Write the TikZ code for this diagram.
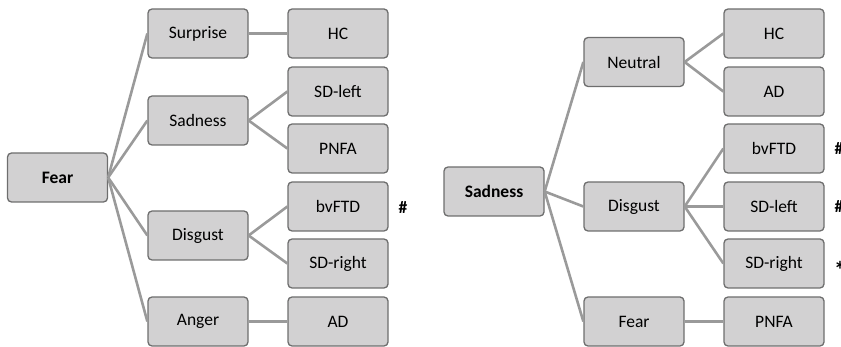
\documentclass[tikz,border=0pt]{standalone}
\usepackage{fontspec}
\setmainfont{Carlito}
\definecolor{boxfill}{HTML}{D2D1D2}
\definecolor{boxdraw}{HTML}{6E6E6E}
\definecolor{linkc}{HTML}{9A9A9A}
\tikzset{
  emo/.style={draw=boxdraw, fill=boxfill, line width=1.3pt, rounded corners=4pt,
    minimum width=100pt, minimum height=49pt, inner sep=0pt, font=\fontsize{17.5}{19}\selectfont},
  link/.style={draw=linkc, line width=2.6pt},
  sigmark/.style={font=\fontsize{17.5}{19}\selectfont\bfseries, inner sep=0pt}
}
\begin{document}
\begin{tikzpicture}[x=1pt,y=-1pt]
\useasboundingbox (0,0) rectangle (841,347);
% left tree
\node[emo, font=\fontsize{17.5}{19}\selectfont\bfseries] (fear) at (57.5,177.5) {Fear};
\node[emo] (surp) at (198,33.5) {Surprise};
\node[emo] (sadl) at (198,120.5) {Sadness};
\node[emo] (disl) at (198,235.5) {Disgust};
\node[emo] (angl) at (198,321.5) {Anger};
\node[emo] (hcl) at (338,33.5) {HC};
\node[emo] (sdll) at (338,91.5) {SD-left};
\node[emo] (pnfal) at (338,148.5) {PNFA};
\node[emo] (bvl) at (338,206.5) {bvFTD};
\node[emo] (sdrl) at (338,263.5) {SD-right};
\node[emo] (adl) at (338,321.5) {AD};
\node[sigmark] (m1) at (403,208) {\#};
\foreach \t in {surp,sadl,disl,angl} \draw[link] (fear.east) -- (\t.west);
\draw[link] (surp.east) -- (hcl.west);
\draw[link] (sadl.east) -- (sdll.west);
\draw[link] (sadl.east) -- (pnfal.west);
\draw[link] (disl.east) -- (bvl.west);
\draw[link] (disl.east) -- (sdrl.west);
\draw[link] (angl.east) -- (adl.west);
% right tree
\node[emo, font=\fontsize{17.5}{19}\selectfont\bfseries] (sadr) at (494,191.5) {Sadness};
\node[emo] (neu) at (634,62) {Neutral};
\node[emo] (disr) at (634,206.5) {Disgust};
\node[emo] (fearr) at (634,321.5) {Fear};
\node[emo] (hcr) at (774,33.5) {HC};
\node[emo] (adr) at (774,91.5) {AD};
\node[emo] (bvr) at (774,148.5) {bvFTD};
\node[emo] (sdlr) at (774,206.5) {SD-left};
\node[emo] (sdrr) at (774,263.5) {SD-right};
\node[emo] (pnfar) at (774,321.5) {PNFA};
\node[sigmark] (m2) at (839,149) {\#};
\node[sigmark] (m3) at (839,207) {\#};
\node[sigmark, font=\fontsize{24}{26}\selectfont\bfseries] (m4) at (840,270) {*};
\foreach \t in {neu,disr,fearr} \draw[link] (sadr.east) -- (\t.west);
\draw[link] (neu.east) -- (hcr.west);
\draw[link] (neu.east) -- (adr.west);
\draw[link] (disr.east) -- (bvr.west);
\draw[link] (disr.east) -- (sdlr.west);
\draw[link] (disr.east) -- (sdrr.west);
\draw[link] (fearr.east) -- (pnfar.west);
\end{tikzpicture}
\end{document}
